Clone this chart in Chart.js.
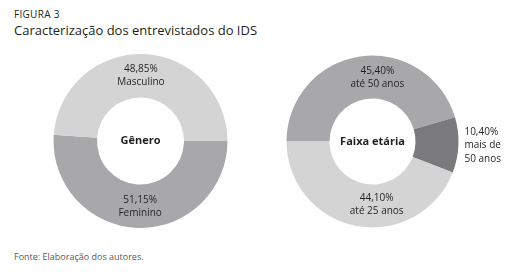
<!DOCTYPE html>
<html>
<head>
<meta charset="utf-8">
<script src="https://cdn.jsdelivr.net/npm/chart.js@4/dist/chart.umd.min.js"></script>
<style>
  html, body { margin: 0; padding: 0; background: #fff; }
  #page { position: relative; width: 516px; height: 279px; overflow: hidden; font-family: "Open Sans", sans-serif; color: #231f20; }
  #fig { position: absolute; left: 14px; top: 7px; font-size: 10px; letter-spacing: 0.3px; }
  #title { position: absolute; left: 14px; top: 21px; font-size: 13px; }
  #source { position: absolute; left: 14px; top: 250px; font-size: 9px; color: #58595b; }
  canvas { position: absolute; }
  #c1 { left: 20px; top: 45px; }
  #c2 { left: 270px; top: 45px; }
</style>
</head>
<body>
<div id="page">
  <div id="fig">FIGURA 3</div>
  <div id="title">Caracterização dos entrevistados do IDS</div>
  <canvas id="c1" width="240" height="195"></canvas>
  <canvas id="c2" width="246" height="195"></canvas>
  <div id="source">Fonte: Elaboração dos autores.</div>
</div>
<script>
// Gênero
const generoLabels = ['Feminino', 'Masculino'];
const generoValues = [51.15, 48.85];
const generoColors = ['#a8a8aa', '#d4d4d5'];

// Faixa etária
const idadeLabels = [['até 50 anos'], ['mais de', '50 anos'], ['até 25 anos']];
const idadeValues = [45.40, 10.40, 44.10];
const idadeColors = ['#a8a8aa', '#7a7a7c', '#d4d4d5'];

const fmt = (v) => v.toFixed(2).replace('.', ',') + '%';

const TEXT = '#231f20';
const FONT = '"Open Sans", sans-serif';

const sliceLabels = {
  id: 'sliceLabels',
  afterDatasetsDraw(chart, args, opts) {
    const { ctx } = chart;
    const meta = chart.getDatasetMeta(0);
    const values = chart.data.datasets[0].data;
    ctx.save();
    ctx.fillStyle = TEXT;
    ctx.font = '10px ' + FONT;
    ctx.textBaseline = 'middle';
    meta.data.forEach((arc, i) => {
      const p = arc.getProps(['x', 'y', 'startAngle', 'endAngle', 'innerRadius', 'outerRadius'], true);
      const mid = (p.startAngle + p.endAngle) / 2;
      const lines = [fmt(values[i])].concat(opts.lines[i]);
      const lh = 13.5;
      if (opts.outside && opts.outside[i]) {
        const r = p.outerRadius + 6;
        const x = p.x + Math.cos(mid) * r;
        const y = p.y + Math.sin(mid) * r;
        ctx.textAlign = 'left';
        lines.forEach((t, k) => ctx.fillText(t, x, y + (k - (lines.length - 1) / 2) * lh));
      } else {
        const r = (p.innerRadius + p.outerRadius) / 2;
        const dx = (opts.dx && opts.dx[i]) || 0;
        const x = p.x + Math.cos(mid) * r + dx;
        const y = p.y + Math.sin(mid) * r;
        ctx.textAlign = 'center';
        lines.forEach((t, k) => ctx.fillText(t, x, y + (k - (lines.length - 1) / 2) * 13));
      }
    });
    // center title
    const a = meta.data[0];
    ctx.font = 'bold 11px ' + FONT;
    ctx.textAlign = 'center';
    ctx.fillText(opts.center, a.x, a.y);
    ctx.restore();
  }
};

function donut(id, labels, values, colors, rotation, padding, labelOpts) {
  return new Chart(document.getElementById(id), {
    type: 'doughnut',
    data: {
      labels: labels.map((l) => [].concat(l).join(' ')),
      datasets: [{ data: values, backgroundColor: colors, borderWidth: 0 }]
    },
    options: {
      responsive: false,
      animation: false,
      rotation: rotation,
      cutout: '50%',
      layout: { padding: padding },
      plugins: {
        legend: { display: false },
        tooltip: { enabled: false },
        sliceLabels: labelOpts
      }
    },
    plugins: [sliceLabels]
  });
}

donut('c1', generoLabels, generoValues, generoColors, 90,
  { left: 33.5, right: 32.5, top: 9, bottom: 12 },
  { lines: [['Feminino'], ['Masculino']], center: 'Gênero', dx: [2, -2] });

donut('c2', idadeLabels, idadeValues, idadeColors, -90,
  { left: 16.5, right: 57.5, top: 10.5, bottom: 12.5 },
  { lines: idadeLabels, center: 'Faixa etária', dx: [14, 0, 16], outside: [false, true, false] });
</script>
</body>
</html>
